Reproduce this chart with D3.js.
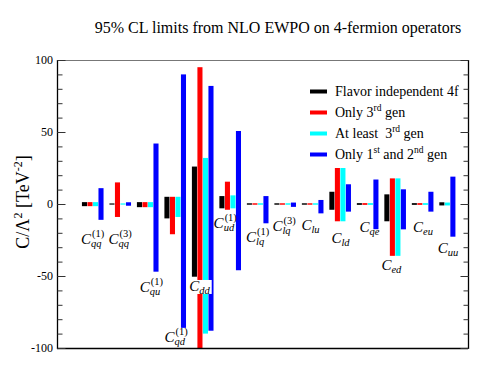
<!DOCTYPE html>
<html><head><meta charset="utf-8">
<script src="https://cdn.jsdelivr.net/npm/d3@7"></script>
<style>body{margin:0;background:#fff}svg{display:block}</style>
</head><body>
<svg id="chart" width="498" height="372"></svg>
<script>
// ---------------- DATA ----------------
const categories = ["qq1","qq3","qu1","qd1","dd","ud1","lq1","lq3","lu","ld","qe","ed","eu","uu"];
const labelSub = ["qq","qq","qu","qd","dd","ud","lq","lq","lu","ld","qe","ed","eu","uu"];
const labelSup = ["(1)","(3)","(1)","(1)","","(1)","(1)","(3)","","","","","",""];
// anchor of each operator label, in C/Λ² units (baseline of "C")
const labelAt = [-27.8,-27.8,-61,-95.8,-60.4,-16.7,-26.4,-18.75,-18,-27,-19.2,-45.8,-19.2,-34];
const labelShift = [0,0,0.13,0.03,-0.1,-0.18,0,-0.04,-0.06,0.03,0.08,-0.12,0.03,-0.06];

const seriesNames = ["Flavor independent 4f","Only 3rd gen","At least  3rd gen","Only 1st and 2nd gen"];
const flavorIndep = [[-1.5,1.3],[-0.4,0.4],[-2.2,1.3],[-10,5],[-50.5,26],[-3,5.5],[-0.5,0.5],[-0.5,0.5],[-0.5,0.5],[-4,8.5],[-0.6,0.6],[-12,6.7],[-0.6,0.6],[-1,1.2]];
const only3rd     = [[-1.5,1.3],[-9,15],[-2.2,1.3],[-21,5],[-100,95],[-4,15.5],[-0.5,0.5],[-0.5,0.5],[-0.5,0.5],[-12,25],[-0.6,0.6],[-36,17.8],[-0.6,0.6],null];
const atLeast3rd  = [[-1.5,1.3],[-0.4,0.4],[-2.2,1.3],[-9,5],[-90,32],[-3,6],[-0.5,0.5],[-0.5,0.5],[-0.5,0.5],[-12,25],[-0.6,0.6],[-36,17.8],[-0.6,0.6],[-1,1]];
const only12      = [[-11,11],[-1.2,1.2],[-47,42],[-86,90],[-88,82],[-46,50.7],[-13.4,5.5],[-2,1],[-6.5,2.8],[-5.3,13.7],[-17.5,17],[-17.6,10.2],[-5.3,8.5],[-22.7,19]];
const seriesData = [flavorIndep, only3rd, atLeast3rd, only12];
const seriesColors = ["#000000","#ff0000","#00ffff","#0000ff"];
const yTicksMajor = [-100,-50,0,50,100];

// ---------------- LAYOUT ----------------
const svg = d3.select("#chart");
const L = 57, R = 468, T = 60, B = 348;
const y = d3.scaleLinear().domain([-100,100]).range([B,T]);
const x = d3.scaleLinear().domain([-1.3,13.65]).range([L,R]);
const slot = d3.scaleBand().domain([0,1,2,3]).range([-0.393,0.393]).paddingInner(0.08);
const serif = "'Liberation Serif','Times New Roman',serif";

svg.append("rect").attr("width",498).attr("height",372).attr("fill","#fff");

// title
svg.append("text").attr("x",278).attr("y",33).attr("text-anchor","middle")
  .attr("font-family",serif).attr("font-size",16).attr("fill","#000")
  .text("95% CL limits from NLO EWPO on 4-fermion operators");

// bars
const clip = svg.append("clipPath").attr("id","pc").append("rect")
  .attr("x",L).attr("y",T).attr("width",R-L).attr("height",B-T);
const gBars = svg.append("g").attr("clip-path","url(#pc)");
categories.forEach((c,i)=>{
  const present = seriesData.map((s,k)=>({k, v:s[i]})).filter(d=>d.v);
  present.forEach((d,j)=>{
    const x0 = x(i + slot(j)), x1 = x(i + slot(j) + slot.bandwidth());
    gBars.append("rect")
      .attr("x",x0).attr("width",x1-x0)
      .attr("y",y(d.v[1])).attr("height",Math.max(1.2,y(d.v[0])-y(d.v[1])))
      .attr("fill",seriesColors[d.k]);
  });
});

// operator labels
const gLab = svg.append("g");
categories.forEach((c,i)=>{
  const g = gLab.append("g");
  const cx = x(i + labelShift[i]);
  const by = y(labelAt[i]);
  const tC = g.append("text").attr("y",by).attr("font-family",serif).attr("font-style","italic")
    .attr("font-size",15).text("C");
  const wC = tC.node().getComputedTextLength();
  const tSub = g.append("text").attr("y",by+3).attr("font-family",serif).attr("font-style","italic")
    .attr("font-size",10.5).text(labelSub[i]);
  const wS = tSub.node().getComputedTextLength();
  let wP = 0, tSup=null;
  if (labelSup[i]) {
    tSup = g.append("text").attr("y",by-7).attr("font-family",serif)
      .attr("font-size",10.5).text(labelSup[i]);
    wP = tSup.node().getComputedTextLength();
  }
  const total = wC + 1 + Math.max(wS,wP);
  const x0 = cx - total/2;
  tC.attr("x",x0);
  tSub.attr("x",x0+wC);
  if (tSup) tSup.attr("x",x0+wC+1);
  if (c==="dd") {
    g.insert("rect","text").attr("x",x0-1).attr("y",by-11).attr("width",total+2).attr("height",14).attr("fill","#fff");
  }
});

// frame
svg.append("line").attr("x1",L).attr("x2",R).attr("y1",T+0.5).attr("y2",T+0.5).attr("stroke","#777").attr("stroke-width",1.2);
svg.append("line").attr("x1",L).attr("x2",R).attr("y1",B+0.5).attr("y2",B+0.5).attr("stroke","#000").attr("stroke-width",1.3);
svg.append("line").attr("x1",L+0.5).attr("x2",L+0.5).attr("y1",T).attr("y2",B+1).attr("stroke","#000").attr("stroke-width",1.3);
svg.append("line").attr("x1",R+0.5).attr("x2",R+0.5).attr("y1",T).attr("y2",B+1).attr("stroke","#000").attr("stroke-width",1.3);

// y axes (ticks inward on both sides)
const minor = d3.range(-100,101,10);
const axL = d3.axisRight(y).tickValues(yTicksMajor).tickSize(8).tickFormat("");
const axLm = d3.axisRight(y).tickValues(minor).tickSize(5).tickFormat("");
const axR = d3.axisLeft(y).tickValues(yTicksMajor).tickSize(8).tickFormat("");
const axRm = d3.axisLeft(y).tickValues(minor).tickSize(5).tickFormat("");
[[axL,L],[axLm,L],[axR,R],[axRm,R]].forEach(([a,px])=>{
  const g = svg.append("g").attr("transform",`translate(${px+0.5},0)`).call(a);
  g.select(".domain").remove();
  g.selectAll("line").attr("stroke","#333");
});
// tick labels
svg.append("g").selectAll("text").data(yTicksMajor).join("text")
  .attr("x",L-4).attr("y",d=>y(d)).attr("dy","0.35em").attr("text-anchor","end")
  .attr("font-family",serif).attr("font-size",12).text(d=>d);

// y label
const yl = svg.append("text").attr("transform","translate(29,202) rotate(-90)")
  .attr("text-anchor","middle").attr("font-family",serif).attr("font-size",18);
yl.append("tspan").text("C/Λ");
yl.append("tspan").attr("dy",-7).attr("font-size",12).text("2");
yl.append("tspan").attr("dy",7).text(" [TeV");
yl.append("tspan").attr("dy",-7).attr("font-size",12).text("-2");
yl.append("tspan").attr("dy",7).text("]");

// legend
const legParts = [
  [["Flavor independent 4f",0]],
  [["Only 3",0],["rd",1],[" gen",0]],
  [["At least  3",0],["rd",1],[" gen",0]],
  [["Only 1",0],["st",1],[" and 2",0],["nd",1],[" gen",0]]
];
const legY = [91.5,112.5,133.5,154.5];
seriesNames.forEach((n,k)=>{
  svg.append("rect").attr("x",310).attr("y",legY[k]-2).attr("width",17).attr("height",4).attr("fill",seriesColors[k]);
  const t = svg.append("text").attr("x",335).attr("y",legY[k]+4.5).attr("font-family",serif).attr("font-size",14).attr("xml:space","preserve");
  let up=false;
  legParts[k].forEach(([s,sup])=>{
    const ts = t.append("tspan").text(s);
    if (sup && !up){ ts.attr("dy",-6).attr("font-size",9.5); up=true; }
    else if (!sup && up){ ts.attr("dy",6); up=false; }
  });
});
</script>
</body></html>
